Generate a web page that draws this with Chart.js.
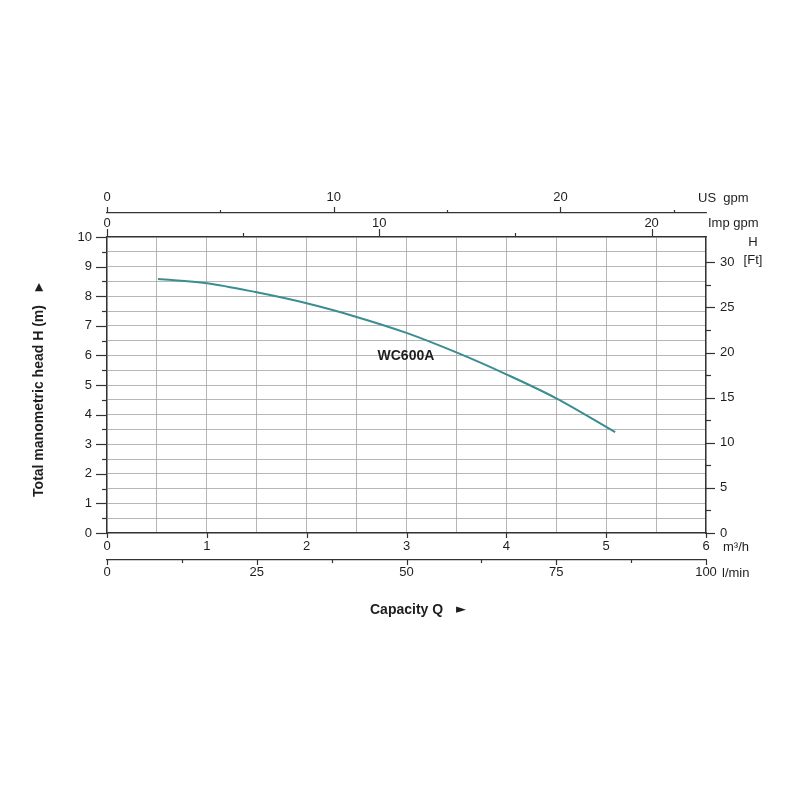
<!DOCTYPE html>
<html>
<head>
<meta charset="utf-8">
<title>WC600A</title>
<script src="https://cdn.jsdelivr.net/npm/chart.js@4.4.1/dist/chart.umd.min.js"></script>
<style>
  html, body { margin: 0; padding: 0; background: #fff; }
  canvas { display: block; }
</style>
</head>
<body>
<canvas id="pumpChart" width="800" height="800"></canvas>
<script>
// WC600A pump curve
var flowM3h = [0.51, 1.0, 1.5, 2.0, 2.5, 3.0, 3.5, 4.0, 4.5, 5.09];
var headM   = [8.58, 8.44, 8.13, 7.76, 7.30, 6.76, 6.10, 5.36, 4.55, 3.41];

var headTicks    = [0, 0.5, 1, 1.5, 2, 2.5, 3, 3.5, 4, 4.5, 5, 5.5, 6, 6.5, 7, 7.5, 8, 8.5, 9, 9.5, 10];
var headLabels   = [0, 1, 2, 3, 4, 5, 6, 7, 8, 9, 10];
var m3hTicks     = [0, 0.5, 1, 1.5, 2, 2.5, 3, 3.5, 4, 4.5, 5, 5.5, 6];
var m3hLabels    = [0, 1, 2, 3, 4, 5, 6];
var lminTicks    = [0, 12.5, 25, 37.5, 50, 62.5, 75, 87.5, 100];
var lminLabels   = [0, 25, 50, 75, 100];
var usGpmTicks   = [0, 5, 10, 15, 20, 25];
var usGpmLabels  = [0, 10, 20];
var impGpmTicks  = [0, 5, 10, 15, 20];
var impGpmLabels = [0, 10, 20];
var ftTicks      = [0, 2.5, 5, 7.5, 10, 12.5, 15, 17.5, 20, 22.5, 25, 27.5, 30];
var ftLabels     = [0, 5, 10, 15, 20, 25, 30];

// unit conversions from m3/h and m
var US_GPM = 4.40287, IMP_GPM = 3.66615, L_MIN = 100 / 6, FT = 3.28084;
var Q_MAX = 6, H_MAX = 10;

var FONT = 'Liberation Sans, Arial, sans-serif';
var INK = '#1e1e1e';

function makeAxis(o) {
  return {
    type: 'linear',
    axis: o.axis,
    position: o.position,
    weight: o.weight || 0,
    min: o.min,
    max: o.max,
    afterBuildTicks: function(scale) {
      scale.ticks = o.ticks.map(function(v) { return { value: v }; });
    },
    afterFit: function(scale) {
      if (scale.isHorizontal()) scale.height = o.size;
      else scale.width = o.size;
    },
    ticks: {
      autoSkip: false,
      maxRotation: 0,
      minRotation: 0,
      padding: o.pad,
      color: INK,
      font: { family: FONT, size: 13 },
      callback: function(v) { return o.labels.indexOf(v) >= 0 ? String(v) : ''; }
    },
    grid: {
      display: true,
      drawTicks: false,
      drawOnChartArea: !!o.grid,
      color: '#a3a3a3',
      lineWidth: 0.8
    },
    border: { display: true, color: '#333', width: 1.3 }
  };
}

// tick marks: long for labelled ticks, short for the others
var tickLen = {
  y:      { major: 11, minor: 5 },
  x:      { major: 5,  minor: 0 },
  lmin:   { major: 5,  minor: 3 },
  impgpm: { major: 8,  minor: 4 },
  usgpm:  { major: 6,  minor: 3 },
  ft:     { major: 9,  minor: 5 }
};

var tickPlugin = {
  id: 'tickMarks',
  afterDraw: function(chart) {
    var ctx = chart.ctx;
    ctx.save();
    ctx.strokeStyle = '#333';
    ctx.lineWidth = 1.2;
    Object.keys(tickLen).forEach(function(id) {
      var s = chart.scales[id];
      s.ticks.forEach(function(t) {
        var len = t.label !== '' ? tickLen[id].major : tickLen[id].minor;
        if (!len) return;
        var p = Math.round(s.getPixelForValue(t.value)) + 0.5;
        ctx.beginPath();
        if (s.position === 'left')   { ctx.moveTo(s.right, p);  ctx.lineTo(s.right - len, p); }
        if (s.position === 'right')  { ctx.moveTo(s.left, p);   ctx.lineTo(s.left + len, p); }
        if (s.position === 'top')    { ctx.moveTo(p, s.bottom); ctx.lineTo(p, s.bottom - len); }
        if (s.position === 'bottom') { ctx.moveTo(p, s.top);    ctx.lineTo(p, s.top + len); }
        ctx.stroke();
      });
    });
    ctx.restore();
  }
};

var labelPlugin = {
  id: 'pumpLabels',
  afterDraw: function(chart) {
    var ctx = chart.ctx;
    var x = chart.scales.x, y = chart.scales.y;
    ctx.save();
    ctx.fillStyle = INK;
    ctx.textBaseline = 'middle';

    // curve name
    ctx.font = 'bold 14px ' + FONT;
    ctx.textAlign = 'left';
    ctx.fillText('WC600A', x.getPixelForValue(2.71), y.getPixelForValue(5.98));

    // axis titles
    ctx.fillText('Capacity Q', 370, 610);
    ctx.font = '13px DejaVu Sans';
    ctx.fillText('\u25BA', 456, 610);

    ctx.save();
    ctx.translate(39, 401);
    ctx.rotate(-Math.PI / 2);
    ctx.font = 'bold 14px ' + FONT;
    ctx.textAlign = 'center';
    ctx.fillText('Total manometric head H (m)', 0, 0);
    ctx.restore();
    ctx.font = '11px DejaVu Sans';
    ctx.textAlign = 'center';
    ctx.fillText('\u25B2', 39, 287);

    // unit names
    ctx.font = '13px ' + FONT;
    ctx.textAlign = 'left';
    ctx.fillText('US  gpm', 698, 198);
    ctx.fillText('Imp gpm', 708, 223);
    ctx.fillText('m\u00B3/h', 723, 547);
    ctx.fillText('l/min', 722, 573);
    ctx.textAlign = 'center';
    ctx.fillText('H', 753, 242);
    ctx.fillText('[Ft]', 753, 260);
    ctx.restore();
  }
};

var points = flowM3h.map(function(q, i) { return { x: q, y: headM[i] }; });

var ctx = document.getElementById('pumpChart').getContext('2d');
var pumpChart = new Chart(ctx, {
  type: 'line',
  data: {
    datasets: [{
      label: 'WC600A',
      data: points,
      borderColor: '#3a8d90',
      borderWidth: 2,
      pointRadius: 0,
      fill: false,
      cubicInterpolationMode: 'monotone'
    }]
  },
  options: {
    responsive: false,
    animation: false,
    layout: { padding: { left: 30, right: 34, top: 180, bottom: 210 } },
    plugins: {
      legend: { display: false },
      tooltip: { enabled: false }
    },
    scales: {
      x: makeAxis({ axis: 'x', position: 'bottom', weight: 0, min: 0, max: Q_MAX,
        ticks: m3hTicks, labels: m3hLabels, pad: 6, size: 27, grid: true }),
      lmin: makeAxis({ axis: 'x', position: 'bottom', weight: 1, min: 0, max: Q_MAX * L_MIN,
        ticks: lminTicks, labels: lminLabels, pad: 5, size: 30 }),
      impgpm: makeAxis({ axis: 'x', position: 'top', weight: 0, min: 0, max: Q_MAX * IMP_GPM,
        ticks: impGpmTicks, labels: impGpmLabels, pad: 6, size: 24 }),
      usgpm: makeAxis({ axis: 'x', position: 'top', weight: 1, min: 0, max: Q_MAX * US_GPM,
        ticks: usGpmTicks, labels: usGpmLabels, pad: 8, size: 33 }),
      y: makeAxis({ axis: 'y', position: 'left', min: 0, max: H_MAX,
        ticks: headTicks, labels: headLabels, pad: 15, size: 77, grid: true }),
      ft: makeAxis({ axis: 'y', position: 'right', min: 0, max: H_MAX * FT,
        ticks: ftTicks, labels: ftLabels, pad: 14, size: 60 })
    }
  },
  plugins: [tickPlugin, labelPlugin]
});
</script>
</body>
</html>
